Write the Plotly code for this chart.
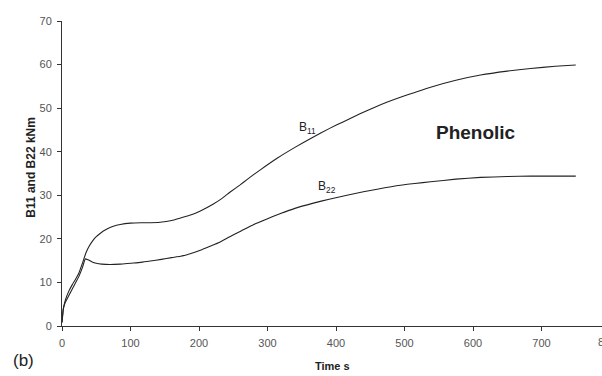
import plotly.graph_objects as go

# Time (s) and bending stiffness B11 (kNm)
time_b11 = [0, 2, 5, 10, 15, 20, 25, 30, 35, 40, 45, 50, 56, 65, 75, 85, 100, 115, 129, 143, 160,
            173, 190, 202, 221, 231, 246, 260, 270, 290, 314, 340, 367, 390, 411, 435, 455, 475,
            494, 515, 538, 575, 611, 650, 684, 720, 750]
b11 = [0.8, 4.0, 6.0, 8.0, 9.5, 10.8, 12.3, 14.5, 16.8, 18.4, 19.6, 20.5, 21.3, 22.2, 22.9, 23.3, 23.6, 23.7, 23.7, 23.8, 24.2,
       24.8, 25.6, 26.4, 28.0, 29.0, 30.8, 32.4, 33.6, 35.9, 38.5, 41.0, 43.4, 45.3, 46.9, 48.7, 50.1, 51.4,
       52.5, 53.6, 54.8, 56.4, 57.6, 58.5, 59.1, 59.6, 59.9]

# Time (s) and bending stiffness B22 (kNm)
time_b22 = [0, 2, 5, 10, 15, 20, 25, 30, 34, 38, 44, 50, 58, 70, 85, 100, 115, 129, 145, 160,
            173, 187, 202, 216, 231, 245, 260, 280, 300, 319, 340, 367, 390, 416, 440, 460, 494,
            515, 538, 575, 611, 650, 684, 720, 750]
b22 = [0.8, 4.0, 5.5, 7.0, 8.5, 10.0, 11.5, 13.5, 15.4, 15.2, 14.7, 14.4, 14.2, 14.1, 14.2, 14.4, 14.6, 14.9, 15.3, 15.7,
       16.0, 16.6, 17.4, 18.3, 19.3, 20.5, 21.7, 23.3, 24.6, 25.8, 27.0, 28.2, 29.1, 30.0, 30.8, 31.4, 32.3,
       32.7, 33.1, 33.7, 34.1, 34.3, 34.4, 34.4, 34.4]

x_ticks = [0, 100, 200, 300, 400, 500, 600, 700]
x_edge_tick = 800
x_max = 788.3
y_ticks = [0, 10, 20, 30, 40, 50, 60, 70]

FONT = "Liberation Sans, Arial, sans-serif"
line_style = dict(color="#222222", width=1.1, shape="spline", smoothing=0.5)

fig = go.Figure()
fig.add_trace(go.Scatter(x=time_b11, y=b11, mode="lines", line=line_style, name="B11", showlegend=False))
fig.add_trace(go.Scatter(x=time_b22, y=b22, mode="lines", line=line_style, name="B22", showlegend=False))

axis_common = dict(
    showgrid=False, zeroline=False, showline=True, linecolor="#333333", linewidth=1,
    ticks="outside", ticklen=4, tickcolor="#333333",
    tickfont=dict(family=FONT, size=11, color="#555555"),
)

fig.update_xaxes(range=[0, x_max], tickvals=x_ticks, ticktext=[str(v) for v in x_ticks],
                 ticklabelstandoff=3, **axis_common)
fig.update_yaxes(range=[0, 70], tickvals=y_ticks, ticktext=[str(v) for v in y_ticks],
                 ticklabelstandoff=3, **axis_common)

# last x tick label sits at the right edge of the axis
fig.add_annotation(xref="paper", yref="paper", x=1.0093, y=-0.0524,
                   xanchor="center", yanchor="middle", text=str(x_edge_tick), showarrow=False,
                   font=dict(family=FONT, size=11, color="#555555"))

# axis titles
fig.add_annotation(xref="paper", yref="paper", x=0.5, y=-0.131, xanchor="center", yanchor="middle",
                   text="<b>Time s</b>", showarrow=False,
                   font=dict(family=FONT, size=11, color="#222222"))
fig.add_annotation(xref="paper", yref="paper", x=-0.058, y=0.521, xanchor="center", yanchor="middle",
                   text="<b>B11 and B22 kNm</b>", textangle=-90, showarrow=False,
                   font=dict(family=FONT, size=12, color="#222222"))

# curve labels
fig.add_annotation(x=358, y=45.5, text="B<sub>11</sub>", showarrow=False,
                   font=dict(family=FONT, size=12, color="#222222"))
fig.add_annotation(x=387, y=31.9, text="B<sub>22</sub>", showarrow=False,
                   font=dict(family=FONT, size=12, color="#222222"))
fig.add_annotation(x=605, y=44.3, text="<b>Phenolic</b>", showarrow=False,
                   font=dict(family=FONT, size=19, color="#222222"))
fig.add_annotation(xref="paper", yref="paper", x=-0.0713, y=-0.113, xanchor="center", yanchor="middle",
                   text="(b)", showarrow=False,
                   font=dict(family=FONT, size=17, color="#222222"))

fig.update_layout(
    width=602, height=376,
    margin=dict(l=62, r=0, t=21, b=50),
    paper_bgcolor="white", plot_bgcolor="white",
)

fig.write_html("out.html")
